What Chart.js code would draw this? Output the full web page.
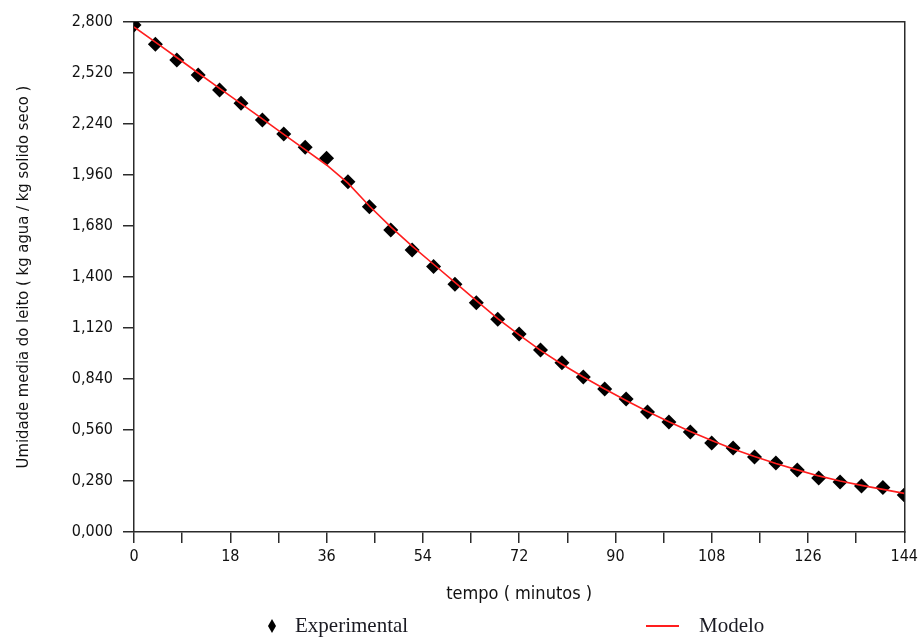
<!DOCTYPE html>
<html>
<head>
<meta charset="utf-8">
<title>Umidade media do leito</title>
<script src="https://cdn.jsdelivr.net/npm/chart.js@4.4.1/dist/chart.umd.min.js"></script>
<style>
  html, body { margin: 0; padding: 0; background: #fff; }
</style>
</head>
<body>
<canvas id="chartSecagem" width="922" height="639"></canvas>
<script>
// Drying time (minutes)
var tempo = [0, 4, 8, 12, 16, 20, 24, 28, 32, 36, 40, 44, 48, 52, 56, 60, 64, 68, 72,
             76, 80, 84, 88, 92, 96, 100, 104, 108, 112, 116, 120, 124, 128, 132, 136, 140, 144];

// Measured bed moisture (kg water / kg dry solid)
var umidadeExp = [2.784, 2.678, 2.591, 2.509, 2.427, 2.354, 2.262, 2.185, 2.112, 2.052,
                  1.923, 1.786, 1.658, 1.548, 1.457, 1.360, 1.259, 1.168, 1.087, 0.999,
                  0.929, 0.851, 0.785, 0.730, 0.659, 0.604, 0.549, 0.489, 0.461, 0.412,
                  0.379, 0.340, 0.296, 0.275, 0.253, 0.244, 0.203];

// Model curve, same time grid
var umidadeModelo = [2.773, 2.689, 2.605, 2.520, 2.436, 2.352, 2.268, 2.183, 2.099, 2.015,
                     1.915, 1.790, 1.675, 1.570, 1.470, 1.370, 1.270, 1.172, 1.082, 0.997,
                     0.921, 0.851, 0.785, 0.722, 0.662, 0.605, 0.552, 0.502, 0.456, 0.414,
                     0.376, 0.341, 0.308, 0.280, 0.256, 0.234, 0.212];

var labelExp = 'Experimental';
var labelModelo = 'Modelo';

var fonteEixo = "'DejaVu Sans Condensed', 'Liberation Sans Narrow', sans-serif";
var fonteLegenda = "'Liberation Serif', 'Times New Roman', serif";
var corEixo = '#2b2b2b';

function pares(xs, ys){
  var out = [];
  for (var i = 0; i < xs.length; i++) out.push({x: xs[i], y: ys[i]});
  return out;
}

// Legend under the x title, spread out like the original report figure
var legendaPlugin = {
  id: 'legendaInferior',
  afterDraw: function(chart){
    var ctx = chart.ctx;
    var dsModelo = chart.data.datasets[0];
    var dsExp = chart.data.datasets[1];
    var y = 626;
    ctx.save();
    // small narrow diamond
    ctx.fillStyle = dsExp.backgroundColor;
    ctx.beginPath();
    ctx.moveTo(272, y - 7);
    ctx.lineTo(276, y);
    ctx.lineTo(272, y + 7);
    ctx.lineTo(268, y);
    ctx.closePath();
    ctx.fill();
    // red line sample
    ctx.strokeStyle = dsModelo.borderColor;
    ctx.lineWidth = 2;
    ctx.beginPath();
    ctx.moveTo(646, y);
    ctx.lineTo(679, y);
    ctx.stroke();
    ctx.fillStyle = '#1a1a22';
    ctx.font = '21px ' + fonteLegenda;
    ctx.textBaseline = 'middle';
    ctx.textAlign = 'left';
    ctx.fillText(dsExp.label, 295, y);
    ctx.fillText(dsModelo.label, 699, y);
    ctx.restore();
  }
};

Chart.defaults.font.family = fonteEixo;
Chart.defaults.color = '#111';

var chartSecagem = new Chart(document.getElementById('chartSecagem'), {
  type: 'line',
  data: {
    datasets: [
      {
        label: labelModelo,
        data: pares(tempo, umidadeModelo),
        borderColor: '#ff1e1e',
        borderWidth: 1.6,
        pointRadius: 0,
        tension: 0,
        fill: false,
        order: 0
      }, {
        label: labelExp,
        data: pares(tempo, umidadeExp),
        showLine: false,
        pointStyle: 'rectRot',
        pointRadius: 7.5,
        pointHoverRadius: 7.5,
        backgroundColor: '#000',
        borderColor: '#000',
        pointBorderWidth: 0,
        order: 1
      }
    ]
  },
  options: {
    responsive: false,
    animation: false,
    layout: { padding: { top: 22, right: 16, bottom: 32, left: 0 } },
    plugins: {
      legend: { display: false },
      tooltip: { enabled: false }
    },
    scales: {
      x: {
        type: 'linear',
        position: 'bottom',
        min: 0,
        max: 144,
        afterFit: function(scale){ scale.height = 75; },
        border: { color: corEixo, width: 1.5 },
        grid: { drawOnChartArea: false, tickLength: 11, color: corEixo, lineWidth: 1.5 },
        ticks: {
          stepSize: 9,
          autoSkip: false,
          maxRotation: 0,
          padding: 4,
          font: { size: 16 },
          callback: function(v){ return v % 18 === 0 ? String(v) : ''; }
        },
        title: {
          display: true,
          text: 'tempo ( minutos )',
          font: { size: 18 },
          padding: { top: 0, bottom: 2 }
        }
      },
      y: {
        type: 'linear',
        position: 'left',
        min: 0,
        max: 2.8,
        afterFit: function(scale){ scale.width = 134; },
        border: { color: corEixo, width: 1.5 },
        grid: { drawOnChartArea: false, tickLength: 11, color: corEixo, lineWidth: 1.5 },
        ticks: {
          stepSize: 0.28,
          padding: 10,
          font: { size: 16 },
          callback: function(v){ return v.toFixed(3).replace('.', ','); }
        },
        title: {
          display: true,
          text: 'Umidade media do leito ( kg agua / kg solido seco )',
          font: { size: 16.5 },
          padding: { top: 14, bottom: 0 }
        }
      },
      // top and right frame lines
      xTopo: {
        type: 'linear',
        position: 'top',
        min: 0,
        max: 144,
        afterFit: function(scale){ scale.height = 0; },
        border: { color: corEixo, width: 1.5 },
        grid: { drawOnChartArea: false, drawTicks: false },
        ticks: { display: false }
      },
      yDireita: {
        type: 'linear',
        position: 'right',
        min: 0,
        max: 2.8,
        afterFit: function(scale){ scale.width = 0; },
        border: { color: corEixo, width: 1.5 },
        grid: { drawOnChartArea: false, drawTicks: false },
        ticks: { display: false }
      }
    }
  },
  plugins: [legendaPlugin]
});
</script>
</body>
</html>
